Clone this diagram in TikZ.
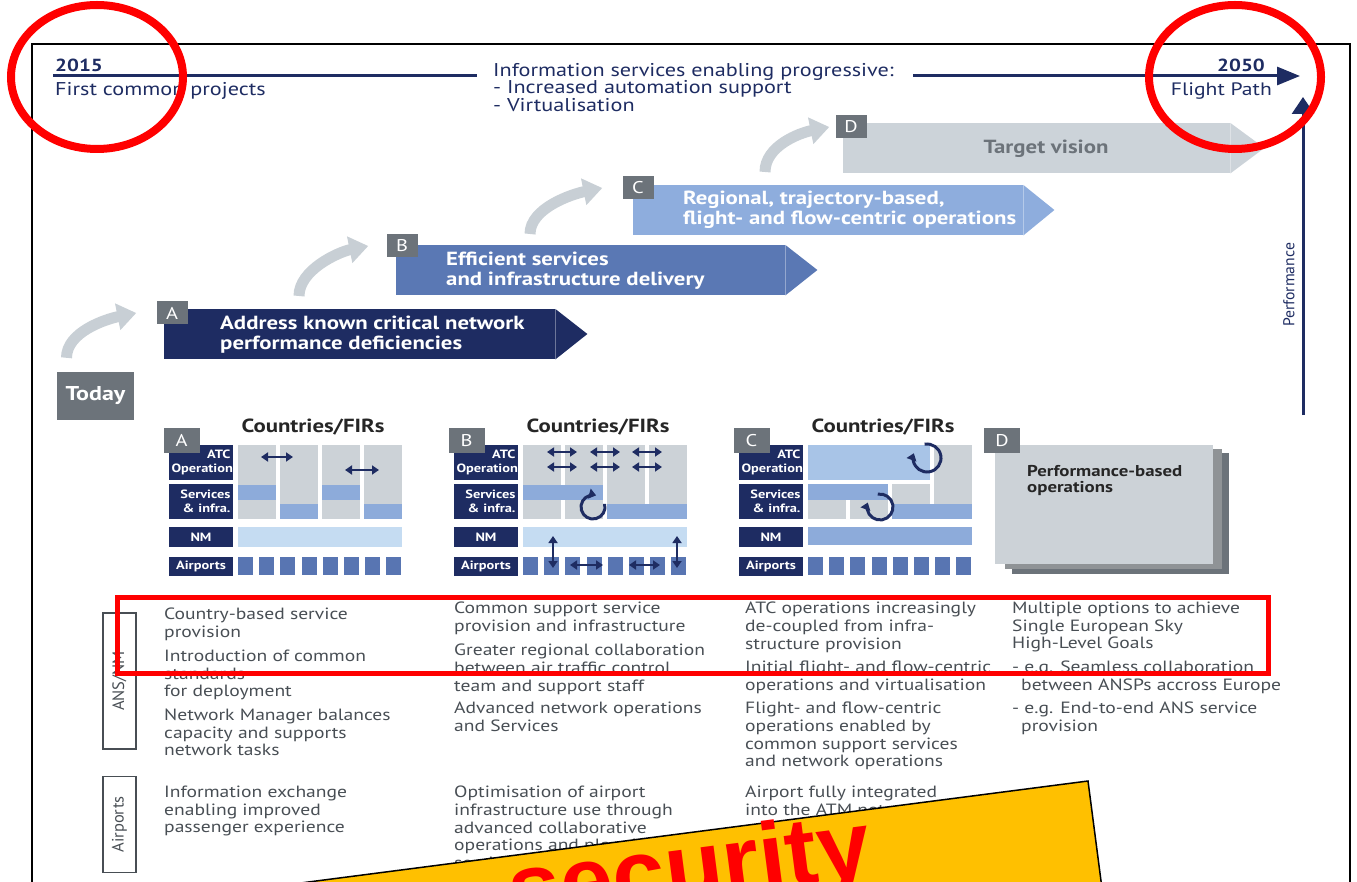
\documentclass[tikz,border=0pt]{standalone}
\usepackage{fontspec}
\setmainfont{PT Sans}[FakeStretch=1.2]
\newfontfamily\condfont{PT Sans}
\newfontfamily\warnfont{Liberation Sans}
\usepackage{tikz}
\usetikzlibrary{positioning,arrows.meta,calc}

\definecolor{navy}{RGB}{30,44,98}
\definecolor{stageB}{RGB}{90,120,180}
\definecolor{stageC}{RGB}{142,173,221}
\definecolor{stageD}{RGB}{204,211,217}
\definecolor{tagGrey}{RGB}{108,115,122}
\definecolor{turnGrey}{RGB}{200,207,213}
\definecolor{colGrey}{RGB}{204,210,215}
\definecolor{servBlue}{RGB}{141,171,218}
\definecolor{nmBlue}{RGB}{197,220,242}
\definecolor{atcBlue}{RGB}{168,196,231}
\definecolor{aptBlue}{RGB}{88,117,178}
\definecolor{bodyGrey}{RGB}{72,78,84}
\definecolor{warnYellow}{RGB}{255,192,0}

\begin{document}
\begin{tikzpicture}[x=1pt, y=-1pt, every node/.style={inner sep=0pt},
  stagebar/.style={anchor=north west, minimum height=50},
  stagetext/.style={anchor=west, align=left, text=white, font=\bfseries\fontsize{19}{20}\selectfont},
  tag/.style={fill=tagGrey, text=white, minimum width=31, minimum height=23, font=\fontsize{17}{17}\selectfont},
  turn/.style={draw=turnGrey, line width=11, -{Triangle[length=19pt,width=26pt]}},
  rowlab/.style={fill=navy, text=white, minimum width=64, text width=59, align=right, font=\bfseries\fontsize{12}{13.5}\selectfont},
  dbl/.style={navy, line width=2.6, {Triangle[length=7pt,width=9pt]}-{Triangle[length=7pt,width=9pt]}},
  loop/.style={navy, line width=3, -{Triangle[length=7pt,width=10pt]}},
  firs/.style={font=\bfseries\fontsize{19}{19}\selectfont, text=black!85},
  txt/.style={anchor=north west, align=left, text=bodyGrey, font=\fontsize{16.3}{17.6}\selectfont},
  sidelab/.style={draw=bodyGrey, line width=1.2, rotate=90, minimum height=33, text=bodyGrey, font=\condfont\fontsize{16.5}{16.5}\selectfont}]
\useasboundingbox (0,0) rectangle (1357,882);

% Frame
\draw[line width=1.5] (32,882) -- (32,44) -- (1350,44) -- (1350,882);

% Timeline
\node[anchor=base west, text=navy, font=\bfseries\fontsize{17.5}{17.5}\selectfont] (y2015) at (55,72) {2015};
\node[anchor=base west, text=navy, font=\fontsize{18.5}{18.5}\selectfont] (fcp) at (55,96) {First common projects};
\node[anchor=base east, text=navy, font=\bfseries\fontsize{17.5}{17.5}\selectfont] (y2050) at (1265,72) {2050};
\node[anchor=base east, text=navy, font=\fontsize{18}{18}\selectfont] (fpath) at (1272,96) {Flight Path};
\node[anchor=north west, align=left, text=navy, font=\fontsize{18.5}{17.5}\selectfont] (info) at (493,63)
  {Information services enabling progressive:\\- Increased automation support\\- Virtualisation};
\coordinate (tlstart) at (53,76);
\coordinate (tlgapL) at (477,76);
\coordinate (tlgapR) at (913,76);
\coordinate (tlend) at (1300,76);
\draw[navy, line width=3] (tlstart) -- (tlgapL);
\draw[navy, line width=3, -{Triangle[length=23pt,width=18pt]}] (tlgapR) -- (tlend);

% Performance axis
\coordinate (perfbase) at (1303,415);
\coordinate (perftop) at (1303,97);
\draw[navy, line width=3, -{Triangle[length=17pt,width=22pt]}] (perfbase) -- (perftop);
\node[rotate=90, text=navy, font=\condfont\fontsize{15.7}{15.7}\selectfont] (perf) at (1289,285) {Performance};

% Stages
\node[fill=tagGrey, text=white, minimum width=77, minimum height=48, font=\bfseries\fontsize{20}{20}\selectfont] (today) at (95.5,396) {Today};

\node[stagebar, fill=navy, minimum width=391] (stageA) at (164,309) {};
\fill[navy] (stageA.north east) -- ++(32,25) -- (stageA.south east) -- cycle;
\node[stagebar, fill=stageB, minimum width=389] (stageB) at (396,245) {};
\fill[stageB] (stageB.north east) -- ++(32,25) -- (stageB.south east) -- cycle;
\node[stagebar, fill=stageC, minimum width=390] (stageC) at (633,185) {};
\fill[stageC] (stageC.north east) -- ++(31,25) -- (stageC.south east) -- cycle;
\node[stagebar, fill=stageD, minimum width=387] (stageD) at (843,123) {};
\fill[stageD] (stageD.north east) -- ++(34,25) -- (stageD.south east) -- cycle;

\node[stagetext] (textA) at ([xshift=56]stageA.west) {Address known critical network\\performance deficiencies};
\node[stagetext] (textB) at ([xshift=50]stageB.west) {Efficient services\\and infrastructure delivery};
\node[stagetext] (textC) at ([xshift=50]stageC.west) {Regional, trajectory-based,\\flight- and flow-centric operations};
\node[text=tagGrey, font=\bfseries\fontsize{19}{19}\selectfont] (textD) at (1046,149) {Target vision};

\node[tag] (tagA) at ([shift={(8,4)}]stageA.north west) {A};
\node[tag] (tagB) at ([shift={(6,1)}]stageB.north west) {B};
\node[tag] (tagC) at ([shift={(5,3)}]stageC.north west) {C};
\node[tag] (tagD) at ([shift={(8,4)}]stageD.north west) {D};

\draw[turn] ([shift={(-29,-14)}]today.north) .. controls +(0,-26) and +(-30,6) .. ([xshift=-20]tagA.west);
\draw[turn] ([shift={(135,-13)}]stageA.north west) .. controls +(0,-26) and +(-30,6) .. ([xshift=-18]tagB.west);
\draw[turn] ([shift={(134,-11)}]stageB.north west) .. controls +(0,-26) and +(-30,6) .. ([xshift=-20]tagC.west);
\draw[turn] ([shift={(132,-13)}]stageC.north west) .. controls +(0,-26) and +(-30,6) .. ([xshift=-6]tagD.west);

% Panels A, B, C
\foreach \p/\dx in {A/0,B/285,C/570}{
  \node[rowlab, minimum height=35] (atc\p) at (201+\dx,462.5) {ATC\\Operation};
  \node[rowlab, minimum height=35] (serv\p) at (201+\dx,501.5) {Services\\\& infra.};
  \node[rowlab, minimum height=20, align=center] (nm\p) at (201+\dx,537) {NM};
  \node[rowlab, minimum height=19, align=center] (apt\p) at (201+\dx,566) {Airports};
  \node[firs] (firs\p) at (313+\dx,427) {Countries/FIRs};
  \foreach \j in {0,...,7}
    \fill[aptBlue] (238+\dx+21.2*\j,557) rectangle ++(15,18);
}
\node[tag, minimum width=36, minimum height=25] (panA) at (181.5,440.5) {A};
\node[tag, minimum width=36, minimum height=25] (panB) at (466.5,440.5) {B};
\node[tag, minimum width=36, minimum height=25] (panC) at (751.5,440.5) {C};

% Panel A
\foreach \i in {0,...,3}
  \fill[colGrey] (238+42*\i,445) rectangle ++(38,74);
\fill[servBlue] (238,485) rectangle (276,500);
\fill[servBlue] (280,504) rectangle (318,519);
\fill[servBlue] (322,485) rectangle (360,500);
\fill[servBlue] (364,504) rectangle (402,519);
\fill[nmBlue] (238,527) rectangle (402,547);
\draw[dbl] (261,457) -- (293,457);
\draw[dbl] (345,470) -- (379,470);

% Panel B
\foreach \i in {0,...,3}
  \fill[colGrey] (523+42*\i,445) rectangle ++(38,74);
\fill[servBlue] (523,485) rectangle (603,500);
\fill[servBlue] (607,504) rectangle (687,519);
\fill[nmBlue] (523,527) rectangle (687,547);
\foreach \y in {452,467}{
  \draw[dbl] (547,\y) -- (577,\y);
  \draw[dbl] (590,\y) -- (620,\y);
  \draw[dbl] (632,\y) -- (662,\y);
}
\draw[loop] (593,507) ++(-15:12) arc[start angle=-15, end angle=285, radius=12];
\draw[dbl] (553,536) -- (553,568);
\draw[dbl] (677,536) -- (677,568);
\draw[dbl] (570,565) -- (603,565);
\draw[dbl] (629,565) -- (660,565);

% Panel C
\fill[atcBlue] (808,445) rectangle (930,480);
\fill[colGrey] (934,445) rectangle (972,519);
\fill[servBlue] (808,484) rectangle (888,500);
\fill[colGrey] (808,500) rectangle (846,519);
\fill[colGrey] (850,500) rectangle (888,519);
\fill[colGrey] (892,484) rectangle (930,504);
\fill[servBlue] (892,504) rectangle (972,519);
\fill[servBlue] (808,527) rectangle (972,545);
\draw[loop] (927,458) ++(-100:14) arc[start angle=-100, end angle=200, radius=14];
\draw[loop] (880,507) ++(-100:13) arc[start angle=-100, end angle=200, radius=13];

% Panel D
\fill[tagGrey] (1012,453) rectangle (1229,574);
\fill[black!30!colGrey] (1005,449) rectangle (1222,569);
\fill[colGrey] (995,445) rectangle (1213,564);
\node[tag, minimum width=36, minimum height=25] (panD) at (1002,440.5) {D};
\node[anchor=north west, align=left, text=black!85, font=\bfseries\fontsize{15.7}{15.7}\selectfont] (perfops) at (1027,465) {Performance-based\\operations};

% Descriptions
\node[sidelab, minimum width=136] (ansnm) at (119.5,681) {ANS/NM};
\node[sidelab, minimum width=96] (aptlab) at (119.5,824.5) {Airports};

\node[txt] (a1) at (164,608) {Country-based service\\provision};
\node[txt] (a2) at (164,650) {Introduction of common\\standards\\for deployment};
\node[txt] (a3) at (164,709) {Network Manager balances\\capacity and supports\\network tasks};
\node[txt] (b1) at (454,602) {Common support service\\provision and infrastructure};
\node[txt] (b2) at (454,644) {Greater regional collaboration\\between air traffic control\\team and support staff};
\node[txt] (b3) at (454,702) {Advanced network operations\\and Services};
\node[txt] (c1) at (745,602) {ATC operations increasingly\\de-coupled from infra-\\structure provision};
\node[txt] (c2) at (745,661) {Initial flight- and flow-centric\\operations and virtualisation};
\node[txt] (c3) at (745,702) {Flight- and flow-centric\\operations enabled by\\common support services\\and network operations};
\node[txt] (d1) at (1012,602) {Multiple options to achieve\\Single European Sky\\High-Level Goals};
\node[txt] (d2) at (1012,661) {- e.g. Seamless collaboration\\\hspace*{9pt}between ANSPs accross Europe};
\node[txt] (d3) at (1012,702) {- e.g. End-to-end ANS service\\\hspace*{9pt}provision};

\node[txt] (a4) at (164,786) {Information exchange\\enabling improved\\passenger experience};
\node[txt] (b4) at (454,786) {Optimisation of airport\\infrastructure use through\\advanced collaborative\\operations and planning\\services};
\node[txt] (c4) at (745,786) {Airport fully integrated\\into the ATM network};

% Markings
\draw[red, line width=8] (97,77) ellipse [x radius=86, y radius=72];
\draw[red, line width=8] (1235,77) ellipse [x radius=86, y radius=72];
\draw[red, line width=5] (117,597) rectangle (1268,673);
\begin{scope}
\clip (0,0) rectangle (1357,882);
\filldraw[fill=warnYellow, draw=black, line width=1.5] (1088,781) -- (1110,950) -- (100,950) -- (100,909) -- cycle;
\node[anchor=base west, rotate=7.4, text=red, font=\warnfont\bfseries\fontsize{95}{95}\selectfont] (warn) at (512,923) {security};
\end{scope}
\end{tikzpicture}
\end{document}
